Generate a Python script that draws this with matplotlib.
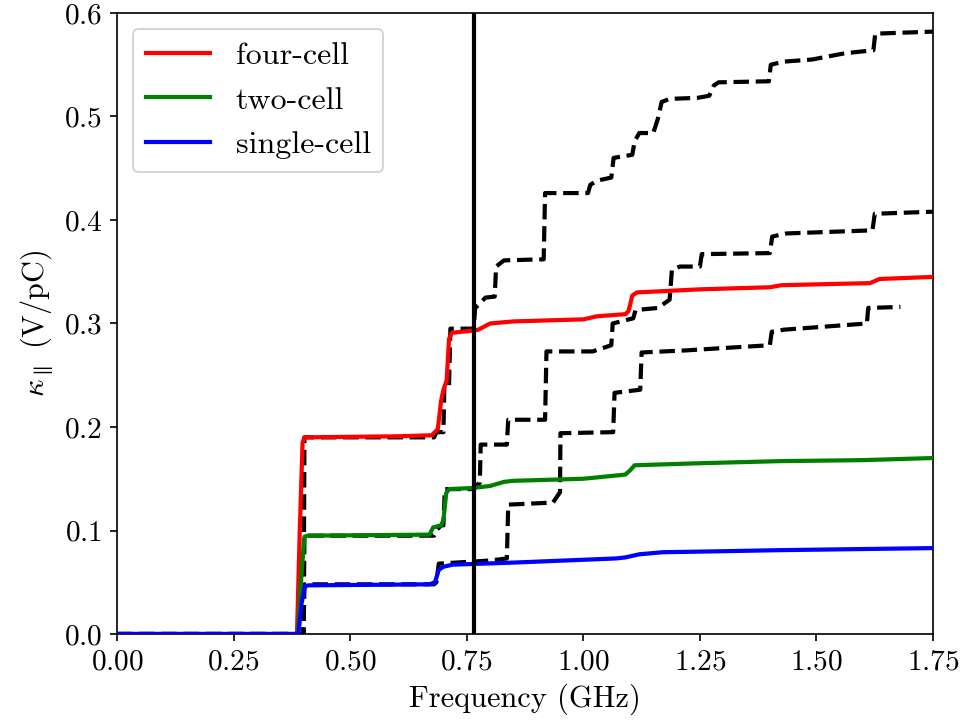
import matplotlib
matplotlib.use("Agg")
import matplotlib.pyplot as plt

plt.rcParams['font.family'] = 'serif'
plt.rcParams['font.serif'] = ['cmr10', 'DejaVu Serif']
plt.rcParams['mathtext.fontset'] = 'cm'
plt.rcParams['axes.formatter.use_mathtext'] = True
plt.rcParams['font.size'] = 14

# Solid curves
four_x = [0, 0.386, 0.392, 0.398, 0.402, 0.60, 0.675, 0.688, 0.695, 0.700, 0.707, 0.712, 0.718,
          0.76, 0.775, 0.800, 0.85, 1.00, 1.03, 1.09, 1.097, 1.105, 1.115, 1.25, 1.40, 1.425,
          1.615, 1.635, 1.75]
four_y = [0, 0, 0.10, 0.185, 0.190, 0.191, 0.192, 0.198, 0.225, 0.236, 0.245, 0.285, 0.291,
          0.293, 0.294, 0.300, 0.302, 0.304, 0.307, 0.309, 0.312, 0.327, 0.330, 0.333, 0.335, 0.337,
          0.339, 0.343, 0.345]

two_x = [0, 0.388, 0.396, 0.402, 0.41, 0.67, 0.678, 0.695, 0.700, 0.706, 0.712, 0.76, 0.80,
         0.83, 0.85, 1.0, 1.09, 1.10, 1.11, 1.25, 1.42, 1.6, 1.75]
two_y = [0, 0, 0.06, 0.094, 0.095, 0.096, 0.103, 0.105, 0.110, 0.136, 0.140, 0.141, 0.143,
         0.147, 0.148, 0.150, 0.154, 0.158, 0.163, 0.165, 0.167, 0.168, 0.170]

single_x = [0, 0.389, 0.396, 0.403, 0.41, 0.67, 0.682, 0.69, 0.70, 0.72, 0.85, 1.07, 1.09,
            1.12, 1.17, 1.3, 1.42, 1.75]
single_y = [0, 0, 0.03, 0.046, 0.047, 0.048, 0.050, 0.062, 0.065, 0.067, 0.069, 0.073, 0.074,
            0.077, 0.079, 0.080, 0.081, 0.083]

# Dashed reference curves
d4_x = [0, 0.40, 0.402, 0.68, 0.685, 0.700, 0.702, 0.712, 0.715, 0.765, 0.768, 0.78, 0.79, 0.81,
        0.813, 0.83, 0.915, 0.918, 1.01, 1.015, 1.03, 1.06, 1.065, 1.105, 1.11, 1.12, 1.15, 1.16,
        1.168, 1.185, 1.245, 1.27, 1.28, 1.29, 1.398, 1.402, 1.43, 1.49, 1.56, 1.622, 1.626, 1.75]
d4_y = [0, 0, 0.190, 0.190, 0.195, 0.195, 0.240, 0.240, 0.295, 0.295, 0.315, 0.320, 0.325, 0.326,
        0.355, 0.361, 0.362, 0.426, 0.426, 0.434, 0.438, 0.441, 0.460, 0.463, 0.476, 0.484, 0.484, 0.498,
        0.514, 0.517, 0.518, 0.520, 0.530, 0.533, 0.534, 0.550, 0.553, 0.555, 0.561, 0.564, 0.580, 0.582]

d2_x = [0, 0.40, 0.402, 0.68, 0.685, 0.695, 0.700, 0.703, 0.765, 0.772, 0.778, 0.780, 0.836,
        0.839, 0.918, 0.921, 1.02, 1.06, 1.063, 1.107, 1.112, 1.16, 1.185, 1.19, 1.207, 1.25,
        1.254, 1.40, 1.405, 1.436, 1.62, 1.625, 1.75]
d2_y = [0, 0, 0.095, 0.095, 0.100, 0.105, 0.105, 0.140, 0.140, 0.144, 0.146, 0.183, 0.183,
        0.207, 0.207, 0.273, 0.273, 0.279, 0.300, 0.305, 0.313, 0.315, 0.323, 0.352, 0.355, 0.355,
        0.367, 0.368, 0.384, 0.387, 0.390, 0.406, 0.408]

d1_x = [0, 0.40, 0.402, 0.68, 0.685, 0.69, 0.80, 0.836, 0.839, 0.935, 0.95, 0.951, 1.064, 1.067,
        1.122, 1.125, 1.22, 1.29, 1.40, 1.404, 1.43, 1.608, 1.611, 1.68]
d1_y = [0, 0, 0.048, 0.048, 0.050, 0.068, 0.071, 0.073, 0.125, 0.127, 0.137, 0.194, 0.195, 0.233,
        0.236, 0.272, 0.274, 0.276, 0.279, 0.292, 0.294, 0.300, 0.315, 0.316]

f_mark = 0.765

fig = plt.figure(figsize=(6.4, 4.828), dpi=150.8)
ax = fig.add_axes([0.1212, 0.1291, 0.8456, 0.853])

for dx, dy in [(d4_x, d4_y), (d2_x, d2_y), (d1_x, d1_y)]:
    ax.plot(dx, dy, color='black', linestyle='--', lw=2, zorder=2)

ax.plot(four_x, four_y, color='red', lw=2, label='four-cell', zorder=3)
ax.plot(two_x, two_y, color='green', lw=2, label='two-cell', zorder=3)
ax.plot(single_x, single_y, color='blue', lw=2, label='single-cell', zorder=3)

ax.axvline(f_mark, color='black', lw=2, zorder=4)

ax.set_xlim(0, 1.75)
ax.set_ylim(0, 0.6)
ax.set_xticks([0, 0.25, 0.5, 0.75, 1.0, 1.25, 1.5, 1.75])
ax.set_xlabel('Frequency (GHz)', fontsize=14.5)
ax.set_ylabel(r'$\kappa_\parallel$ (V/pC)', fontsize=14.5)
ax.legend(loc='upper left', fontsize=15.3)

fig.savefig('out.png', dpi=150.8)
